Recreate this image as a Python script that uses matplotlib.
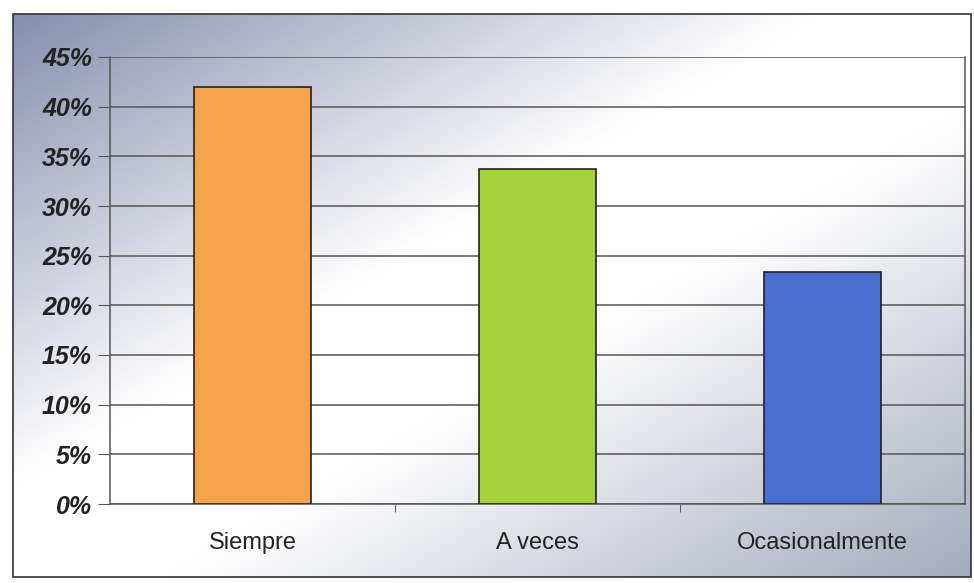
import numpy as np
import matplotlib
matplotlib.use('Agg')
import matplotlib.pyplot as plt
from matplotlib.patches import Rectangle

categorias = ['Siempre', 'A veces', 'Ocasionalmente']
valores = [42.0, 33.7, 23.4]
cores = ['#F5A24C', '#A4D238', '#4A6ED2']
yticks = [0, 5, 10, 15, 20, 25, 30, 35, 40, 45]

plt.rcParams['font.family'] = ['Liberation Sans', 'DejaVu Sans']

W, H = 974, 583
fig = plt.figure(figsize=(W / 100, H / 100), dpi=100)

# fundo com degradê dentro do quadro
fx0, fx1, fy0, fy1 = 13, 971, 14, 577
bg = fig.add_axes([0, 0, 1, 1], zorder=0)
bg.set_xlim(0, W)
bg.set_ylim(H, 0)
bg.axis('off')
xx, yy = np.meshgrid(np.linspace(0, 1, 300), np.linspace(0, 1, 200))
t = (xx + yy) / 2
esq = np.array([136, 142, 174]) / 255
meio = np.array([1.0, 1.0, 1.0])
dir_ = np.array([165, 171, 190]) / 255
a = np.clip(1 - t / 0.42, 0, 1)[..., None]
b = np.clip((t - 0.58) / 0.42, 0, 1)[..., None]
w = 1 - a - b
img = a * esq + b * dir_ + w * meio
bg.imshow(img, extent=[fx0, fx1, fy1, fy0], aspect='auto', interpolation='bilinear')
bg.add_patch(Rectangle((fx0, fy0), fx1 - fx0, fy1 - fy0, fill=False,
                       edgecolor='#333333', linewidth=1.2))

# eixo principal
ax = fig.add_axes([110 / W, 1 - 504 / H, (965 - 110) / W, (504 - 57) / H], zorder=1)
ax.patch.set_alpha(0)
x = np.arange(len(categorias))
ax.bar(x, valores, width=0.41, color=cores, edgecolor='#222222', linewidth=1.2, zorder=3)
ax.set_xlim(-0.5, 2.5)
ax.set_ylim(0, 45)
ax.set_yticks(yticks)
ax.set_yticklabels([f'{v}%' for v in yticks], fontsize=18, fontweight='bold',
                   fontstyle='italic', color='#222222')
ax.set_xticks(x)
ax.set_xticklabels(categorias, fontsize=17, color='#222222')
ax.tick_params(axis='x', length=0, pad=20)
ax.tick_params(axis='y', length=9, color='#555555', pad=4)
ax.set_xticks([0.5, 1.5], minor=True)
ax.tick_params(axis='x', which='minor', length=6, color='#444444')
ax.grid(axis='y', color='#555555', linewidth=1.1, zorder=0)
ax.set_axisbelow(True)
ax.spines['top'].set_visible(False)
for s in ['left', 'bottom', 'right']:
    ax.spines[s].set_color('#555555')
    ax.spines[s].set_linewidth(1.1)

fig.savefig('out.png', dpi=100)
